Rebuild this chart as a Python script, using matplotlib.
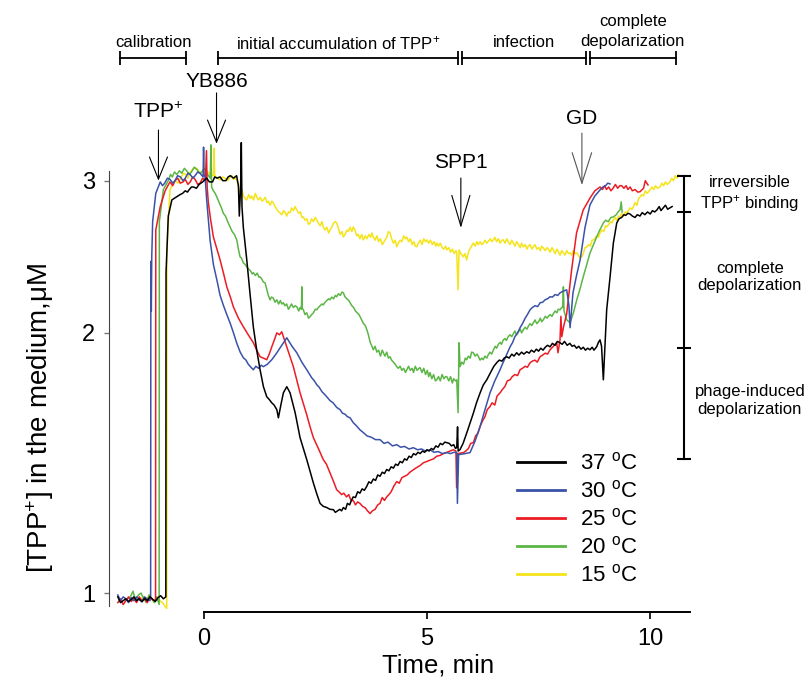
import matplotlib.pyplot as plt
from matplotlib.ticker import NullLocator

plt.rcParams['font.family'] = 'Liberation Sans'
plt.rcParams['mathtext.fontset'] = 'custom'
plt.rcParams['mathtext.rm'] = 'Liberation Sans'
plt.rcParams['mathtext.it'] = 'Liberation Sans:italic'

# (time in min, [TPP+] in uM)
curve_37 = [(-1.92, 0.99), (-1.86, 0.975), (-1.80, 0.98), (-1.74, 0.985), (-1.68, 0.978), (-1.62, 0.983),
            (-1.56, 0.99), (-1.50, 0.98), (-1.44, 0.985), (-1.38, 0.977), (-1.32, 0.986), (-1.26, 0.98),
            (-1.20, 0.99), (-1.14, 0.984), (-1.08, 0.978), (-1.02, 0.988), (-0.96, 0.993), (-0.90, 0.985),
            (-0.845, 0.99), (-0.84, 2.35), (-0.79, 2.73), (-0.71, 2.85), (-0.62, 2.87), (-0.53, 2.89),
            (-0.47, 2.9), (-0.41, 2.92), (-0.36, 2.91), (-0.32, 2.93), (-0.27, 2.95), (-0.23, 2.95),
            (-0.16, 2.94), (-0.10, 2.97), (-0.02, 2.99), (0.07, 3.02), (0.13, 2.99), (0.2, 2.99), (0.25, 3.03),
            (0.3, 3.02), (0.37, 3.03), (0.43, 3.0), (0.5, 3.0), (0.55, 3.03), (0.6, 3.04), (0.67, 3.02),
            (0.74, 3.04), (0.78, 2.96), (0.80, 2.73), (0.83, 2.95), (0.845, 3.32), (0.86, 2.8), (0.89, 2.65),
            (0.967, 2.43), (1.04, 2.22), (1.115, 2.03), (1.19, 1.91), (1.265, 1.813), (1.34, 1.733),
            (1.415, 1.687), (1.47, 1.675), (1.527, 1.66), (1.58, 1.65), (1.64, 1.63), (1.675, 1.595),
            (1.73, 1.65), (1.787, 1.705), (1.863, 1.733), (1.936, 1.705), (2.05, 1.617), (2.16, 1.513),
            (2.31, 1.427), (2.458, 1.341), (2.54, 1.3), (2.608, 1.27), (2.68, 1.26), (2.758, 1.256),
            (2.83, 1.25), (2.906, 1.249), (2.95, 1.24), (3.0, 1.245), (3.05, 1.25), (3.09, 1.245),
            (3.13, 1.256), (3.18, 1.25), (3.22, 1.27), (3.27, 1.265), (3.31, 1.28), (3.35, 1.292),
            (3.4, 1.29), (3.45, 1.31), (3.5, 1.305), (3.55, 1.32), (3.6, 1.315), (3.65, 1.328), (3.7, 1.345),
            (3.75, 1.34), (3.8, 1.355), (3.85, 1.35), (3.9, 1.37), (3.95, 1.365), (4.0, 1.38), (4.05, 1.375),
            (4.1, 1.39), (4.15, 1.385), (4.2, 1.4), (4.25, 1.395), (4.3, 1.41), (4.35, 1.405), (4.4, 1.42),
            (4.45, 1.415), (4.5, 1.43), (4.55, 1.425), (4.6, 1.44), (4.65, 1.435), (4.7, 1.45), (4.75, 1.445),
            (4.8, 1.455), (4.85, 1.45), (4.9, 1.46), (4.95, 1.455), (5.0, 1.465), (5.05, 1.46), (5.1, 1.47),
            (5.145, 1.465), (5.2, 1.48), (5.25, 1.475), (5.3, 1.49), (5.35, 1.485), (5.4, 1.495),
            (5.445, 1.493), (5.5, 1.49), (5.55, 1.48), (5.6, 1.485), (5.64, 1.47), (5.668, 1.474),
            (5.686, 1.557), (5.70, 1.46), (5.74, 1.465), (5.81, 1.49), (5.89, 1.531), (5.96, 1.57),
            (6.04, 1.615), (6.11, 1.66), (6.19, 1.704), (6.26, 1.74), (6.34, 1.765), (6.4, 1.79), (6.45, 1.81),
            (6.5, 1.83), (6.57, 1.849), (6.62, 1.86), (6.68, 1.855), (6.73, 1.87), (6.79, 1.877), (6.84, 1.87),
            (6.9, 1.89), (6.95, 1.88), (7.01, 1.897), (7.06, 1.885), (7.12, 1.9), (7.17, 1.89), (7.235, 1.902),
            (7.29, 1.895), (7.34, 1.91), (7.4, 1.9), (7.45, 1.915), (7.5, 1.905), (7.55, 1.92), (7.6, 1.91),
            (7.65, 1.925), (7.7, 1.935), (7.757, 1.927), (7.81, 1.945), (7.87, 1.935), (7.92, 1.955),
            (7.98, 1.948), (8.03, 1.94), (8.08, 1.955), (8.14, 1.935), (8.2, 1.945), (8.25, 1.93),
            (8.3, 1.935), (8.35, 1.92), (8.4, 1.93), (8.45, 1.915), (8.5, 1.925), (8.55, 1.91), (8.6, 1.92),
            (8.65, 1.912), (8.7, 1.925), (8.74, 1.91), (8.8, 1.927), (8.84, 1.95), (8.876, 1.963),
            (8.91, 1.93), (8.95, 1.765), (8.99, 1.948), (9.025, 2.127), (9.1, 2.32), (9.174, 2.54),
            (9.25, 2.68), (9.3, 2.71), (9.36, 2.72), (9.41, 2.74), (9.45, 2.735), (9.5, 2.75), (9.548, 2.745),
            (9.6, 2.73), (9.66, 2.72), (9.71, 2.74), (9.77, 2.73), (9.82, 2.755), (9.88, 2.74), (9.94, 2.76),
            (10.0, 2.745), (10.05, 2.77), (10.1, 2.76), (10.15, 2.775), (10.2, 2.8), (10.24, 2.77),
            (10.29, 2.79), (10.34, 2.81), (10.39, 2.78), (10.44, 2.79), (10.49, 2.80)]

curve_30 = [(-1.92, 0.995), (-1.86, 0.98), (-1.80, 0.99), (-1.74, 0.985), (-1.68, 0.975), (-1.62, 0.988),
            (-1.56, 0.98), (-1.50, 0.99), (-1.44, 0.982), (-1.38, 0.978), (-1.32, 0.99), (-1.26, 0.984),
            (-1.20, 0.98), (-1.185, 0.99), (-1.18, 2.42), (-1.17, 2.12), (-1.16, 2.45), (-1.14, 2.69),
            (-1.07, 2.9), (-0.97, 2.99), (-0.92, 2.96), (-0.87, 2.98), (-0.81, 3.02), (-0.75, 3.01),
            (-0.69, 2.98), (-0.64, 3.0), (-0.58, 3.04), (-0.52, 3.03), (-0.46, 3.0), (-0.41, 3.02),
            (-0.35, 3.06), (-0.3, 3.05), (-0.24, 3.02), (-0.19, 3.04), (-0.13, 3.07), (-0.08, 3.06),
            (-0.01, 3.03), (0.0, 3.28), (0.01, 3.05), (0.034, 3.03), (0.07, 2.85), (0.146, 2.56), (0.22, 2.40),
            (0.3, 2.30), (0.37, 2.21), (0.44, 2.155), (0.52, 2.1), (0.593, 2.054), (0.67, 2.0), (0.743, 1.946),
            (0.82, 1.9), (0.89, 1.872), (0.95, 1.86), (1.0, 1.84), (1.06, 1.825), (1.115, 1.813),
            (1.17, 1.83), (1.23, 1.82), (1.29, 1.835), (1.34, 1.828), (1.43, 1.84), (1.527, 1.862),
            (1.62, 1.89), (1.713, 1.922), (1.863, 1.974), (1.98, 1.93), (2.087, 1.897), (2.2, 1.85),
            (2.31, 1.813), (2.42, 1.775), (2.48, 1.76), (2.535, 1.742), (2.59, 1.73), (2.65, 1.71), (2.7, 1.7),
            (2.758, 1.687), (2.83, 1.67), (2.9, 1.66), (2.98, 1.64), (3.056, 1.63), (3.11, 1.615),
            (3.17, 1.61), (3.22, 1.6), (3.28, 1.595), (3.35, 1.575), (3.43, 1.56), (3.5, 1.545),
            (3.58, 1.533), (3.66, 1.52), (3.75, 1.515), (3.85, 1.505), (3.95, 1.505), (4.04, 1.49),
            (4.13, 1.495), (4.23, 1.48), (4.325, 1.485), (4.41, 1.475), (4.5, 1.478), (4.6, 1.468),
            (4.697, 1.473), (4.79, 1.465), (4.88, 1.468), (4.97, 1.46), (5.07, 1.465), (5.16, 1.455),
            (5.25, 1.458), (5.35, 1.45), (5.445, 1.454), (5.53, 1.45), (5.6, 1.455), (5.668, 1.454),
            (5.683, 1.27), (5.71, 1.446), (5.85, 1.45), (5.966, 1.454), (6.08, 1.5), (6.19, 1.558),
            (6.3, 1.63), (6.414, 1.705), (6.52, 1.76), (6.638, 1.813), (6.69, 1.84), (6.75, 1.87),
            (6.81, 1.9), (6.862, 1.927), (6.92, 1.95), (6.97, 1.98), (7.03, 2.0), (7.086, 2.028), (7.14, 2.05),
            (7.2, 2.08), (7.25, 2.1), (7.31, 2.127), (7.36, 2.14), (7.42, 2.15), (7.48, 2.145), (7.534, 2.167),
            (7.59, 2.17), (7.65, 2.185), (7.7, 2.19), (7.757, 2.202), (7.81, 2.2), (7.87, 2.215), (7.93, 2.21),
            (7.98, 2.225), (8.05, 2.235), (8.13, 2.243), (8.18, 2.15), (8.205, 2.028), (8.27, 2.225),
            (8.35, 2.33), (8.43, 2.429), (8.54, 2.649), (8.65, 2.812), (8.76, 2.88), (8.876, 2.927),
            (8.94, 2.95), (9.0, 2.96), (9.05, 2.98), (9.1, 2.974)]

curve_25 = [(-1.92, 0.975), (-1.86, 0.985), (-1.80, 0.97), (-1.74, 0.98), (-1.68, 0.99), (-1.62, 0.978),
            (-1.56, 0.985), (-1.50, 0.975), (-1.44, 0.99), (-1.38, 0.98), (-1.32, 0.985), (-1.26, 0.975),
            (-1.20, 0.99), (-1.14, 0.982), (-1.075, 0.98), (-1.07, 2.63), (-0.97, 2.8), (-0.86, 2.92),
            (-0.8, 2.96), (-0.75, 2.99), (-0.69, 2.96), (-0.64, 3.0), (-0.58, 3.02), (-0.52, 2.98),
            (-0.46, 2.99), (-0.41, 3.01), (-0.35, 2.97), (-0.3, 2.99), (-0.24, 3.03), (-0.19, 3.01),
            (-0.13, 2.97), (-0.08, 2.98), (-0.02, 3.02), (0.04, 3.0), (0.065, 3.25), (0.08, 2.95),
            (0.107, 2.83), (0.16, 2.7), (0.22, 2.582), (0.3, 2.5), (0.37, 2.429), (0.45, 2.34), (0.52, 2.261),
            (0.6, 2.2), (0.667, 2.144), (0.78, 2.08), (0.89, 2.033), (1.0, 1.99), (1.115, 1.948),
            (1.19, 1.91), (1.265, 1.877), (1.34, 1.87), (1.415, 1.862), (1.47, 1.89), (1.527, 1.927),
            (1.58, 1.96), (1.64, 2.0), (1.7, 1.99), (1.75, 2.006), (1.863, 1.927), (2.01, 1.828),
            (2.16, 1.705), (2.31, 1.608), (2.38, 1.56), (2.458, 1.513), (2.57, 1.47), (2.68, 1.427),
            (2.75, 1.41), (2.83, 1.378), (2.9, 1.35), (2.98, 1.317), (3.03, 1.31), (3.09, 1.30),
            (3.14, 1.305), (3.2, 1.292), (3.25, 1.3), (3.3, 1.28), (3.35, 1.28), (3.4, 1.265), (3.45, 1.275),
            (3.5, 1.27), (3.56, 1.26), (3.62, 1.255), (3.67, 1.245), (3.727, 1.236), (3.78, 1.245),
            (3.84, 1.25), (3.9, 1.265), (3.95, 1.27), (4.0, 1.29), (4.05, 1.28), (4.1, 1.292), (4.15, 1.3),
            (4.2, 1.31), (4.26, 1.33), (4.325, 1.346), (4.38, 1.34), (4.44, 1.36), (4.5, 1.365), (4.56, 1.37),
            (4.62, 1.38), (4.697, 1.389), (4.75, 1.395), (4.8, 1.4), (4.85, 1.405), (4.92, 1.415),
            (5.0, 1.42), (5.07, 1.425), (5.15, 1.43), (5.22, 1.44), (5.295, 1.443), (5.37, 1.45),
            (5.45, 1.455), (5.52, 1.46), (5.59, 1.465), (5.65, 1.46), (5.665, 1.324), (5.69, 1.45),
            (5.82, 1.454), (5.87, 1.46), (5.93, 1.47), (5.98, 1.49), (6.04, 1.493), (6.09, 1.52), (6.14, 1.53),
            (6.19, 1.558), (6.24, 1.58), (6.3, 1.6), (6.35, 1.63), (6.41, 1.643), (6.46, 1.66), (6.52, 1.65),
            (6.57, 1.69), (6.638, 1.705), (6.69, 1.72), (6.75, 1.735), (6.8, 1.76), (6.862, 1.765),
            (6.91, 1.78), (6.97, 1.79), (7.03, 1.785), (7.086, 1.813), (7.14, 1.82), (7.2, 1.83),
            (7.25, 1.825), (7.31, 1.847), (7.36, 1.855), (7.42, 1.86), (7.47, 1.85), (7.534, 1.877),
            (7.59, 1.885), (7.65, 1.895), (7.7, 1.89), (7.757, 1.912), (7.83, 1.93), (7.905, 1.948),
            (7.935, 1.897), (7.98, 1.963), (8.0, 2.09), (8.02, 1.98), (8.055, 2.028), (8.13, 2.105),
            (8.24, 2.366), (8.35, 2.61), (8.5, 2.775), (8.653, 2.865), (8.76, 2.92), (8.876, 2.95),
            (8.93, 2.93), (8.98, 2.96), (9.02, 2.93), (9.07, 2.95), (9.12, 2.92), (9.174, 2.943), (9.22, 2.97),
            (9.27, 2.94), (9.32, 2.96), (9.36, 2.96), (9.41, 2.94), (9.46, 2.96), (9.5, 2.93), (9.548, 2.95),
            (9.6, 2.92), (9.66, 2.93), (9.72, 2.91), (9.772, 2.913), (9.82, 2.93), (9.85, 2.94), (9.89, 3.0),
            (9.92, 2.982), (9.95, 2.966)]

curve_20 = [(-1.70, 0.985), (-1.64, 0.99), (-1.58, 1.005), (-1.52, 0.98), (-1.46, 0.995), (-1.40, 1.0),
            (-1.34, 0.985), (-1.28, 0.975), (-1.22, 0.995), (-1.16, 0.985), (-1.10, 0.975), (-1.05, 0.99),
            (-0.995, 0.97), (-0.99, 2.69), (-0.9, 2.93), (-0.79, 3.0), (-0.74, 3.05), (-0.7, 3.03),
            (-0.65, 3.07), (-0.6, 3.05), (-0.54, 3.08), (-0.49, 3.06), (-0.43, 3.1), (-0.38, 3.08),
            (-0.32, 3.05), (-0.27, 3.07), (-0.21, 3.11), (-0.15, 3.09), (-0.09, 3.06), (-0.04, 3.07),
            (0.02, 3.1), (0.07, 3.06), (0.15, 3.02), (0.165, 3.3), (0.18, 2.95), (0.22, 2.92), (0.26, 2.9),
            (0.3, 2.87), (0.35, 2.83), (0.4, 2.79), (0.443, 2.75), (0.49, 2.73), (0.54, 2.69), (0.593, 2.652),
            (0.64, 2.62), (0.69, 2.6), (0.743, 2.562), (0.78, 2.50), (0.817, 2.449), (0.85, 2.44),
            (0.89, 2.41), (0.93, 2.4), (0.967, 2.385), (1.01, 2.37), (1.05, 2.36), (1.09, 2.34),
            (1.115, 2.348), (1.16, 2.33), (1.2, 2.345), (1.24, 2.32), (1.265, 2.322), (1.3, 2.31),
            (1.34, 2.29), (1.377, 2.285), (1.41, 2.25), (1.45, 2.21), (1.489, 2.184), (1.52, 2.2),
            (1.56, 2.195), (1.6, 2.17), (1.64, 2.184), (1.68, 2.16), (1.72, 2.18), (1.75, 2.16),
            (1.787, 2.167), (1.82, 2.15), (1.86, 2.16), (1.9, 2.13), (1.936, 2.144), (1.97, 2.16),
            (2.01, 2.14), (2.05, 2.15), (2.087, 2.144), (2.13, 2.12), (2.16, 2.14), (2.19, 2.13),
            (2.2, 2.261), (2.21, 2.135), (2.234, 2.127), (2.27, 2.1), (2.31, 2.11), (2.35, 2.08),
            (2.384, 2.088), (2.42, 2.1), (2.46, 2.11), (2.5, 2.13), (2.534, 2.127), (2.57, 2.14), (2.61, 2.15),
            (2.65, 2.16), (2.68, 2.155), (2.72, 2.17), (2.76, 2.18), (2.8, 2.19), (2.83, 2.184), (2.87, 2.2),
            (2.91, 2.19), (2.95, 2.21), (2.98, 2.202), (3.02, 2.22), (3.06, 2.21), (3.1, 2.23), (3.13, 2.225),
            (3.17, 2.2), (3.21, 2.19), (3.25, 2.18), (3.28, 2.167), (3.32, 2.15), (3.36, 2.14), (3.4, 2.12),
            (3.44, 2.11), (3.48, 2.1), (3.504, 2.088), (3.54, 2.07), (3.58, 2.05), (3.62, 2.04),
            (3.655, 2.017), (3.69, 1.99), (3.73, 1.95), (3.77, 1.93), (3.8, 1.912), (3.84, 1.93), (3.88, 1.90),
            (3.92, 1.91), (3.96, 1.88), (4.0, 1.91), (4.025, 1.897), (4.06, 1.88), (4.1, 1.9), (4.14, 1.87),
            (4.175, 1.877), (4.21, 1.86), (4.25, 1.85), (4.29, 1.84), (4.325, 1.828), (4.36, 1.82),
            (4.4, 1.83), (4.44, 1.81), (4.48, 1.82), (4.52, 1.80), (4.55, 1.813), (4.59, 1.83), (4.63, 1.81),
            (4.67, 1.82), (4.7, 1.8), (4.74, 1.83), (4.78, 1.81), (4.82, 1.82), (4.847, 1.823), (4.89, 1.8),
            (4.93, 1.82), (4.97, 1.79), (5.01, 1.81), (5.04, 1.78), (5.07, 1.799), (5.11, 1.77), (5.15, 1.79),
            (5.19, 1.76), (5.22, 1.765), (5.26, 1.78), (5.3, 1.76), (5.34, 1.79), (5.38, 1.77), (5.42, 1.78),
            (5.445, 1.78), (5.49, 1.76), (5.53, 1.78), (5.57, 1.75), (5.6, 1.77), (5.64, 1.76), (5.668, 1.765),
            (5.698, 1.617), (5.72, 1.948), (5.742, 1.828), (5.78, 1.85), (5.82, 1.84), (5.86, 1.87),
            (5.89, 1.862), (5.93, 1.88), (5.97, 1.87), (6.0, 1.9), (6.04, 1.897), (6.08, 1.88), (6.12, 1.89),
            (6.15, 1.88), (6.19, 1.86), (6.23, 1.87), (6.26, 1.862), (6.3, 1.88), (6.34, 1.87), (6.37, 1.885),
            (6.41, 1.9), (6.45, 1.89), (6.49, 1.912), (6.53, 1.93), (6.56, 1.92), (6.6, 1.94), (6.64, 1.95),
            (6.67, 1.94), (6.71, 1.963), (6.75, 1.97), (6.78, 1.96), (6.82, 1.98), (6.86, 1.99), (6.9, 1.98),
            (6.935, 1.995), (6.97, 2.01), (7.01, 1.99), (7.05, 2.005), (7.09, 2.02), (7.12, 2.0),
            (7.16, 2.017), (7.2, 2.03), (7.24, 2.02), (7.27, 2.035), (7.31, 2.05), (7.35, 2.04),
            (7.383, 2.054), (7.42, 2.07), (7.46, 2.05), (7.5, 2.06), (7.54, 2.08), (7.57, 2.06),
            (7.607, 2.071), (7.65, 2.09), (7.69, 2.08), (7.72, 2.09), (7.76, 2.1), (7.8, 2.09), (7.83, 2.105),
            (7.87, 2.12), (7.91, 2.11), (7.94, 2.13), (7.98, 2.127), (8.02, 2.14), (8.04, 2.14),
            (8.055, 2.261), (8.07, 2.12), (8.13, 2.071), (8.205, 2.054), (8.28, 2.11), (8.355, 2.184),
            (8.43, 2.25), (8.5, 2.322), (8.58, 2.4), (8.653, 2.475), (8.73, 2.53), (8.8, 2.582), (8.87, 2.63),
            (8.95, 2.68), (9.0, 2.7), (9.06, 2.69), (9.12, 2.72), (9.174, 2.724), (9.24, 2.74), (9.28, 2.76),
            (9.324, 2.775), (9.35, 2.835), (9.37, 2.76)]

curve_15 = [(-1.40, 0.985), (-1.34, 0.99), (-1.28, 0.98), (-1.22, 0.995), (-1.16, 0.985), (-1.10, 0.975),
            (-1.04, 0.99), (-0.98, 0.98), (-0.92, 0.975), (-0.86, 0.965), (-0.825, 0.96), (-0.82, 2.5),
            (-0.78, 2.75), (-0.75, 2.93), (-0.69, 2.97), (-0.64, 3.0), (-0.57, 2.98), (-0.5, 3.03),
            (-0.45, 3.06), (-0.4, 3.05), (-0.35, 3.02), (-0.3, 3.07), (-0.22, 3.1), (-0.15, 3.1),
            (-0.1, 3.07), (-0.05, 3.06), (0.01, 3.1), (0.07, 3.08), (0.15, 3.05), (0.22, 3.04),
            (0.235, 3.27), (0.25, 3.04), (0.31, 3.02), (0.37, 3.006), (0.42, 3.03), (0.48, 3.02),
            (0.54, 3.0), (0.593, 3.03), (0.63, 3.04), (0.67, 3.01), (0.71, 3.02), (0.743, 3.006),
            (0.78, 2.95), (0.817, 2.91), (0.86, 2.93), (0.89, 2.88), (0.93, 2.86), (0.967, 2.85),
            (1.01, 2.89), (1.05, 2.86), (1.08, 2.88), (1.12, 2.85), (1.16, 2.9), (1.19, 2.873), (1.23, 2.85),
            (1.27, 2.87), (1.31, 2.84), (1.34, 2.85), (1.38, 2.87), (1.42, 2.83), (1.45, 2.84), (1.49, 2.81),
            (1.53, 2.84), (1.563, 2.827), (1.6, 2.8), (1.64, 2.78), (1.68, 2.76), (1.713, 2.753),
            (1.75, 2.74), (1.79, 2.77), (1.82, 2.76), (1.86, 2.73), (1.9, 2.76), (1.936, 2.753), (1.97, 2.79),
            (2.01, 2.77), (2.05, 2.8), (2.087, 2.775), (2.13, 2.75), (2.17, 2.76), (2.2, 2.72),
            (2.234, 2.724), (2.27, 2.7), (2.31, 2.71), (2.35, 2.67), (2.384, 2.68), (2.42, 2.71),
            (2.46, 2.69), (2.5, 2.72), (2.534, 2.702), (2.57, 2.68), (2.61, 2.66), (2.65, 2.69),
            (2.68, 2.652), (2.72, 2.63), (2.76, 2.65), (2.8, 2.61), (2.832, 2.631), (2.87, 2.65), (2.91, 2.68),
            (2.95, 2.69), (2.98, 2.68), (3.02, 2.64), (3.06, 2.6), (3.1, 2.62), (3.13, 2.582), (3.17, 2.6),
            (3.21, 2.63), (3.24, 2.62), (3.28, 2.65), (3.32, 2.62), (3.353, 2.652), (3.39, 2.63),
            (3.43, 2.59), (3.46, 2.6), (3.5, 2.57), (3.54, 2.6), (3.577, 2.562), (3.62, 2.59), (3.66, 2.57),
            (3.7, 2.6), (3.74, 2.58), (3.77, 2.61), (3.8, 2.582), (3.84, 2.56), (3.88, 2.59), (3.92, 2.55),
            (3.96, 2.57), (4.0, 2.53), (4.025, 2.541), (4.06, 2.56), (4.1, 2.58), (4.14, 2.62),
            (4.175, 2.61), (4.21, 2.57), (4.25, 2.54), (4.29, 2.56), (4.325, 2.515), (4.36, 2.54),
            (4.4, 2.56), (4.44, 2.55), (4.48, 2.59), (4.52, 2.57), (4.55, 2.582), (4.59, 2.55), (4.63, 2.57),
            (4.67, 2.53), (4.71, 2.55), (4.74, 2.52), (4.773, 2.515), (4.81, 2.54), (4.85, 2.56), (4.89, 2.53),
            (4.93, 2.57), (4.97, 2.55), (5.0, 2.562), (5.04, 2.54), (5.08, 2.56), (5.12, 2.53), (5.16, 2.55),
            (5.2, 2.52), (5.22, 2.541), (5.26, 2.52), (5.3, 2.54), (5.34, 2.51), (5.38, 2.5), (5.42, 2.52),
            (5.445, 2.495), (5.49, 2.51), (5.53, 2.48), (5.57, 2.5), (5.61, 2.47), (5.65, 2.49),
            (5.668, 2.475), (5.698, 2.243), (5.72, 2.495), (5.76, 2.47), (5.79, 2.46), (5.815, 2.449),
            (5.85, 2.47), (5.89, 2.429), (5.93, 2.48), (5.96, 2.5), (6.0, 2.52), (6.04, 2.541), (6.08, 2.52),
            (6.12, 2.55), (6.15, 2.53), (6.19, 2.55), (6.23, 2.53), (6.264, 2.541), (6.3, 2.56), (6.34, 2.54),
            (6.38, 2.555), (6.42, 2.57), (6.45, 2.55), (6.488, 2.562), (6.52, 2.58), (6.56, 2.55), (6.6, 2.57),
            (6.64, 2.54), (6.68, 2.56), (6.71, 2.562), (6.75, 2.54), (6.79, 2.57), (6.82, 2.55), (6.86, 2.53),
            (6.9, 2.56), (6.935, 2.541), (6.97, 2.52), (7.01, 2.55), (7.05, 2.53), (7.09, 2.51), (7.12, 2.54),
            (7.16, 2.515), (7.2, 2.53), (7.24, 2.5), (7.27, 2.52), (7.31, 2.53), (7.35, 2.5), (7.383, 2.515),
            (7.42, 2.53), (7.46, 2.5), (7.5, 2.51), (7.54, 2.49), (7.57, 2.52), (7.607, 2.508), (7.65, 2.49),
            (7.69, 2.51), (7.72, 2.5), (7.76, 2.48), (7.8, 2.51), (7.83, 2.495), (7.87, 2.47), (7.91, 2.5),
            (7.94, 2.485), (7.98, 2.46), (8.02, 2.49), (8.055, 2.475), (8.09, 2.46), (8.13, 2.49),
            (8.17, 2.47), (8.205, 2.475), (8.24, 2.46), (8.28, 2.49), (8.32, 2.47), (8.355, 2.475),
            (8.39, 2.46), (8.43, 2.44), (8.467, 2.449), (8.5, 2.47), (8.54, 2.51), (8.58, 2.515),
            (8.62, 2.53), (8.66, 2.52), (8.7, 2.56), (8.726, 2.562), (8.76, 2.57), (8.8, 2.59), (8.84, 2.58),
            (8.876, 2.61), (8.92, 2.63), (8.96, 2.62), (9.0, 2.66), (9.026, 2.652), (9.07, 2.67),
            (9.11, 2.69), (9.14, 2.68), (9.174, 2.702), (9.21, 2.72), (9.25, 2.7), (9.29, 2.73),
            (9.324, 2.724), (9.36, 2.75), (9.4, 2.73), (9.44, 2.76), (9.474, 2.753), (9.51, 2.77),
            (9.55, 2.79), (9.59, 2.78), (9.622, 2.797), (9.66, 2.83), (9.7, 2.81), (9.74, 2.86),
            (9.772, 2.873), (9.81, 2.89), (9.85, 2.88), (9.89, 2.92), (9.93, 2.9), (9.996, 2.927),
            (10.04, 2.95), (10.08, 2.93), (10.12, 2.96), (10.16, 2.94), (10.22, 2.95), (10.26, 2.98),
            (10.3, 2.96), (10.34, 2.99), (10.38, 2.97), (10.44, 2.99), (10.48, 3.02), (10.52, 3.0),
            (10.56, 3.04), (10.6, 3.02), (10.63, 3.046)]

series = [("37", curve_37, "black"), ("30", curve_30, "#3a52a8"), ("25", curve_25, "#ec1c24"),
          ("20", curve_20, "#5cb646"), ("15", curve_15, "#f5e41a")]

# experiment phases (start, end) in min
phases = [("calibration", -1.87, -0.385), ("initial accumulation of TPP$^{+}$", 0.33, 5.70),
          ("infection", 5.79, 8.56), ("complete\ndepolarization", 8.65, 10.57)]
# events: label, time, arrow tip level
events = [("TPP$^{+}$", -1.01, 3.0), ("YB886", 0.29, 3.31), ("SPP1", 5.76, 2.645), ("GD", 8.47, 2.965)]
# right-hand bracket levels
bracket = [3.04, 2.76, 1.92, 1.43]
bracket_text = [("irreversible\nTPP$^{+}$ binding", 2.894), ("complete\ndepolarization", 2.32),
                ("phage-induced\ndepolarization", 1.67)]

fig = plt.figure(figsize=(8.11, 6.89), dpi=100)
ax = fig.add_axes([0.1348, 0.1118, 0.8322, 0.8821])
ax.set_yscale('log')

lines = {}
for name, data, color in series[::-1]:
    t, v = zip(*data)
    lines[name], = ax.plot(t, v, color=color, lw=1.1, label=name + r" $^{\mathrm{o}}$C")

ax.set_xlim(-2.11, 13.0)
ax.set_ylim(0.951, 4.8)

for s in ['top', 'right']:
    ax.spines[s].set_visible(False)
ax.spines['left'].set_bounds(0.965, 3.08)
ax.spines['left'].set_color('#444444')
ax.spines['bottom'].set_bounds(0, 10.9)
ax.spines['bottom'].set_linewidth(1.4)

ax.set_xticks([0, 5, 10])
ax.set_yticks([1, 2, 3])
ax.set_yticklabels(['1', '2', '3'])
ax.yaxis.set_minor_locator(NullLocator())
ax.tick_params(axis='x', length=5, width=1.2, pad=6.5, labelsize=17)
ax.tick_params(axis='y', length=3.6, width=1, color='#777777', pad=6.5, labelsize=17)

fig.text(438 / 811, 1 - 665 / 689, "Time, min", ha='center', va='center', fontsize=18.5)
fig.text(40 / 811, 1 - 418 / 689, "[TPP$^{+}$] in the medium,μM", ha='center', va='center',
         rotation=90, fontsize=20)

# phase bars
bar_y = 4.155
for label, x0, x1 in phases:
    ax.plot([x0, x1], [bar_y, bar_y], color='black', lw=1.3, marker='|', ms=10, mew=1.3)
    ly = 4.466 if "\n" in label else 4.33
    ax.text((x0 + x1) / 2, ly, label, ha='center', va='center', fontsize=12, linespacing=1.41)

# event arrows
tails = {"TPP$^{+}$": 3.433, "YB886": 3.79, "SPP1": 3.021, "GD": 3.405}
label_y = {"TPP$^{+}$": 3.60, "YB886": 3.91, "SPP1": 3.145, "GD": 3.544}
heads = {"TPP$^{+}$": (16, 6.5), "YB886": (16, 6.5), "SPP1": (22, 6.5), "GD": (22, 7)}
for label, x, tip in events:
    hl, hw = heads[label]
    col = '#555555' if label == "GD" else 'black'
    ax.annotate('', xy=(x, tip), xytext=(x, tails[label]), annotation_clip=False,
                arrowprops=dict(arrowstyle=f'->,head_length={hl},head_width={hw}', lw=0.8,
                                color=col, shrinkA=0, shrinkB=0, mutation_scale=1))
    ax.text(x, label_y[label], label, ha='center', va='center', fontsize=15)

# right bracket
bx = 10.757
ax.plot([bx, bx], [bracket[-1], bracket[0]], color='black', lw=1.5, clip_on=False)
ax.plot([bx] * len(bracket), bracket, ls='none', marker='_', ms=10, mew=1.5, color='black', clip_on=False)
for txt, y in bracket_text:
    ax.text(12.23, y, txt, ha='center', va='center', fontsize=12, linespacing=1.2)

handles = [lines[n] for n, _, _ in series]
leg = ax.legend(handles, [h.get_label() for h in handles], loc='upper left',
                bbox_to_anchor=(507.8 / 811, 1 - 444 / 689), bbox_transform=fig.transFigure,
                frameon=False, fontsize=16, handlelength=2.16, handletextpad=0.68,
                labelspacing=0.27, borderaxespad=0, borderpad=0.4)
for ln in leg.get_lines():
    ln.set_linewidth(2)

fig.savefig('out.png', dpi=100)
